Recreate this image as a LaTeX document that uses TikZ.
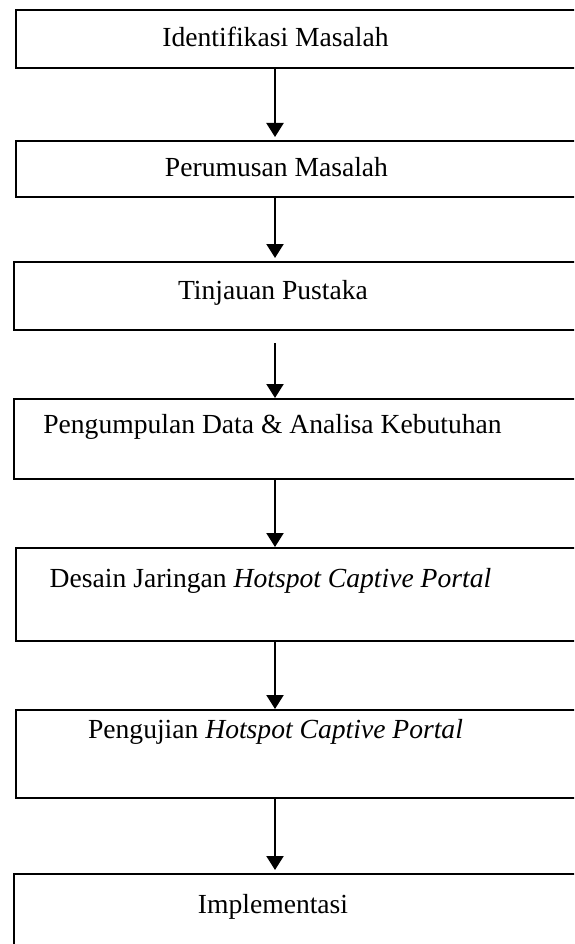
\documentclass[tikz,border=0pt]{standalone}
\usepackage{fontspec}
\setmainfont{Liberation Serif}
\usetikzlibrary{arrows.meta}
\tikzset{
  stepbox/.style={draw, line width=2.2pt, rectangle, inner sep=0pt, anchor=north west, minimum width=580pt},
  lbl/.style={anchor=base, inner sep=0pt, font=\fontsize{27.6}{30}\selectfont},
  arr/.style={line width=2.2pt, -{Triangle[width=17pt,length=14pt]}}
}
\begin{document}
\begin{tikzpicture}[x=1pt,y=-1pt]
\useasboundingbox (0,0) rectangle (574,944);
\clip (0,0) rectangle (574,944);
\node[stepbox, minimum height=58pt] (b1) at (15,9) {};
\node[stepbox, minimum height=56pt] (b2) at (15,140) {};
\node[stepbox, minimum height=68pt] (b3) at (13,261) {};
\node[stepbox, minimum height=80pt] (b4) at (13,398) {};
\node[stepbox, minimum height=93pt] (b5) at (15,547) {};
\node[stepbox, minimum height=88pt] (b6) at (15,709) {};
\node[stepbox, minimum height=92pt] (b7) at (13,873) {};
\node[lbl] (t1) at (275.5,47) {Identifikasi Masalah};
\node[lbl] (t2) at (276.5,176) {Perumusan Masalah};
\node[lbl] (t3) at (273,299) {Tinjauan Pustaka};
\node[lbl] (t4) at (272.5,433) {Pengumpulan Data \& Analisa Kebutuhan};
\node[lbl] (t5) at (270.5,587) {Desain Jaringan \textit{Hotspot Captive Portal}};
\node[lbl] (t6) at (275.5,738) {Pengujian \textit{Hotspot Captive Portal}};
\node[lbl] (t7) at (273,913) {Implementasi};
\coordinate (ax) at (275,0);
\coordinate (c3) at (275,343);
\draw[arr] (b1.south -| ax) -- ([yshift=3pt]b2.north -| ax);
\draw[arr] (b2.south -| ax) -- ([yshift=3pt]b3.north -| ax);
\draw[arr] (c3) -- (b4.north -| ax);
\draw[arr] (b4.south -| ax) -- (b5.north -| ax);
\draw[arr] (b5.south -| ax) -- (b6.north -| ax);
\draw[arr] (b6.south -| ax) -- ([yshift=3pt]b7.north -| ax);
\end{tikzpicture}
\end{document}
